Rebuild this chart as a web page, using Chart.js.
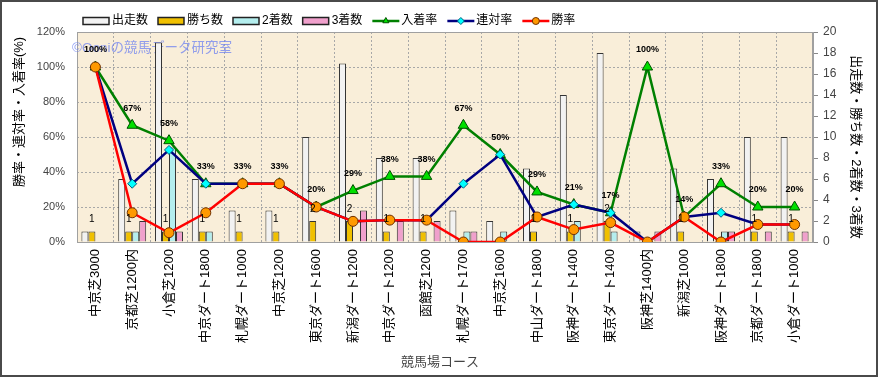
<!DOCTYPE html>
<html>
<head>
<meta charset="utf-8">
<script src="https://cdn.jsdelivr.net/npm/chart.js@4.4.1/dist/chart.umd.min.js"></script>
<style>
  body { margin: 0; background: #fff; }
  #wrap { width: 881px; height: 378px; }
</style>
</head>
<body>
<div id="wrap"><canvas id="courseChart" width="881" height="378"></canvas></div>
<script>
// コース別成績
const courses = ['中京芝3000', '京都芝1200内', '小倉芝1200', '中京ダート1800', '札幌ダート1000',
  '中京芝1200', '東京ダート1600', '新潟ダート1200', '中京ダート1200', '函館芝1200',
  '札幌ダート1700', '中京芝1600', '中山ダート1800', '阪神ダート1400', '東京ダート1400',
  '阪神芝1400内', '新潟芝1000', '阪神ダート1800', '京都ダート1800', '小倉ダート1000'];

const starts  = [1, 6, 19, 6, 3, 3, 10, 17, 8, 8, 3, 2, 7, 14, 18, 1, 7, 6, 10, 10];
const wins    = [1, 1, 1, 1, 1, 1, 2, 2, 1, 1, 0, 0, 1, 1, 2, 0, 1, 0, 1, 1];
const seconds = [0, 1, 9, 1, 0, 0, 0, 0, 0, 0, 1, 1, 0, 2, 1, 0, 0, 1, 0, 0];
const thirds  = [0, 2, 1, 0, 0, 0, 0, 3, 2, 2, 1, 0, 0, 0, 0, 1, 0, 1, 1, 1];

// 率 (%)
const placeRate  = [100, 66.7, 57.9, 33.3, 33.3, 33.3, 20, 29.4, 37.5, 37.5, 66.7, 50, 28.6, 21.4, 16.7, 100, 14.3, 33.3, 20, 20];
const rentaiRate = [100, 33.3, 52.6, 33.3, 33.3, 33.3, 20, 11.8, 12.5, 12.5, 33.3, 50, 14.3, 21.4, 16.7, 0, 14.3, 16.7, 10, 10];
const winRate    = [100, 16.7, 5.3, 16.7, 33.3, 33.3, 20, 11.8, 12.5, 12.5, 0, 0, 14.3, 7.1, 11.1, 0, 14.3, 0, 10, 10];

const rateTicks  = [0, 20, 40, 60, 80, 100, 120];
const countTicks = [0, 2, 4, 6, 8, 10, 12, 14, 16, 18, 20];

const FONT = '"Liberation Sans", "Noto Sans CJK JP", sans-serif';
Chart.defaults.font.family = FONT;

function barSet(label, data, color) {
  return {
    type: 'bar', label, data, yAxisID: 'yR', order: 10,
    backgroundColor: color, borderColor: '#333', borderWidth: 1,
    categoryPercentage: 0.76, barPercentage: 1.0
  };
}
function lineSet(label, data, color, style, fill, edge, radius, order) {
  return {
    type: 'line', label, data, yAxisID: 'yL', order,
    borderColor: color, borderWidth: 2.5, tension: 0,
    pointStyle: style, pointRadius: radius, pointBackgroundColor: fill,
    pointBorderColor: edge, pointBorderWidth: 1
  };
}

// 装飾: 背景・枠・ラベル・凡例・軸タイトル
const decor = {
  id: 'decor',
  beforeDraw(chart) {
    const { ctx, chartArea: a } = chart;
    ctx.save();
    ctx.fillStyle = '#fff';
    ctx.fillRect(0, 0, chart.width, chart.height);
    ctx.fillStyle = '#f9eed9';
    ctx.fillRect(a.left, a.top, a.right - a.left, a.bottom - a.top);
    ctx.restore();
  },
  beforeDatasetsDraw(chart) {
    const { ctx, chartArea: a } = chart;
    ctx.save();
    ctx.strokeStyle = '#a0a0a0';
    ctx.lineWidth = 1;
    ctx.strokeRect(a.left + 0.5, a.top + 0.5, a.right - a.left - 1, a.bottom - a.top);
    // 透かし
    ctx.font = '13.5px ' + FONT;
    ctx.fillStyle = 'rgba(110,130,240,0.75)';
    ctx.textBaseline = 'middle';
    ctx.fillText('©Ooniの競馬データ研究室', 72, 48);
    ctx.restore();
  },
  afterDatasetsDraw(chart) {
    const { ctx } = chart;
    ctx.save();
    ctx.fillStyle = '#000';
    ctx.textAlign = 'center';
    ctx.textBaseline = 'middle';
    // 入着率ラベル
    ctx.font = 'bold 9px ' + FONT;
    const pm = chart.getDatasetMeta(4);
    pm.data.forEach((p, i) => {
      ctx.fillText(Math.round(placeRate[i]) + '%', p.x, p.y - 17);
    });
    // 勝ち数ラベル
    ctx.font = '10px ' + FONT;
    const wm = chart.getDatasetMeta(1);
    wm.data.forEach((b, i) => {
      if (wins[i] > 0) ctx.fillText(String(wins[i]), b.x, b.y - 12);
    });
    ctx.restore();
  },
  afterDraw(chart) {
    const { ctx } = chart;
    ctx.save();
    // 凡例
    ctx.font = '12px ' + FONT;
    ctx.textBaseline = 'middle';
    let x = 83;
    const ly = 21;
    chart.data.datasets.forEach(ds => {
      if (ds.type === 'bar') {
        ctx.fillStyle = ds.backgroundColor;
        ctx.strokeStyle = '#222';
        ctx.lineWidth = 1.5;
        ctx.fillRect(x, ly - 3.5, 26, 7);
        ctx.strokeRect(x, ly - 3.5, 26, 7);
      } else {
        ctx.strokeStyle = ds.borderColor;
        ctx.lineWidth = 2.5;
        ctx.beginPath();
        ctx.moveTo(x, ly);
        ctx.lineTo(x + 27, ly);
        ctx.stroke();
        ctx.fillStyle = ds.pointBackgroundColor;
        ctx.strokeStyle = ds.pointBorderColor;
        ctx.lineWidth = 1;
        Chart.helpers.drawPoint(ctx, { pointStyle: ds.pointStyle, radius: 3.5, rotation: 0, borderWidth: 1 }, x + 13.5, ly);
      }
      x += 29;
      ctx.fillStyle = '#000';
      ctx.fillText(ds.label, x, ly);
      x += ctx.measureText(ds.label).width + 10;
    });
    // 軸タイトル
    ctx.font = '13px ' + FONT;
    ctx.fillStyle = '#000';
    ctx.textAlign = 'center';
    ctx.save();
    ctx.translate(19, 112);
    ctx.rotate(-Math.PI / 2);
    ctx.fillText('勝率・連対率・入着率(%)', 0, 0);
    ctx.restore();
    ctx.save();
    ctx.translate(856, 147);
    ctx.rotate(Math.PI / 2);
    ctx.fillText('出走数・勝ち数・2着数・3着数', 0, 0);
    ctx.restore();
    ctx.fillStyle = '#444';
    ctx.fillText('競馬場コース', 440, 362);
    // 外枠
    ctx.strokeStyle = '#4a4a4a';
    ctx.lineWidth = 2;
    ctx.strokeRect(1, 1, 876, 375);
    ctx.restore();
  }
};

const chart = new Chart(document.getElementById('courseChart'), {
  type: 'bar',
  data: {
    labels: courses,
    datasets: [
      barSet('出走数', starts, '#f2f2f2'),
      barSet('勝ち数', wins, '#f0c000'),
      barSet('2着数', seconds, '#b4eeee'),
      barSet('3着数', thirds, '#f0a0cc'),
      lineSet('入着率', placeRate, '#008000', 'triangle', '#00e000', '#005000', 6, 3),
      lineSet('連対率', rentaiRate, '#000080', 'rectRot', '#00ffff', '#006080', 4.5, 2),
      lineSet('勝率', winRate, '#ff0000', 'circle', '#ff9900', '#703000', 5, 1)
    ]
  },
  options: {
    responsive: false,
    animation: false,
    layout: { padding: { top: 32, left: 0, right: 0, bottom: 0 } },
    plugins: { legend: { display: false }, tooltip: { enabled: false } },
    scales: {
      x: {
        offset: true,
        grid: { offset: true, color: '#a8a8a8', drawTicks: false },
        border: { display: false, dash: [2, 2] },
        ticks: { autoSkip: false, minRotation: 90, maxRotation: 90, padding: 7, color: '#000', font: { size: 13 } },
        afterFit(s) { s.height = 136; }
      },
      yL: {
        position: 'left', min: 0, max: 120,
        afterBuildTicks(s) { s.ticks = rateTicks.map(v => ({ value: v })); },
        ticks: { callback: v => v + '%', padding: 12, color: '#444', font: { size: 11 } },
        grid: { color: '#a8a8a8', drawTicks: false },
        border: { display: false, dash: [2, 2] },
        afterFit(s) { s.width = 77; }
      },
      yR: {
        position: 'right', min: 0, max: 20,
        afterBuildTicks(s) { s.ticks = countTicks.map(v => ({ value: v })); },
        ticks: { padding: 5, color: '#444', font: { size: 12 } },
        grid: { drawOnChartArea: false, color: '#888', tickLength: 5 },
        border: { display: true, color: '#a0a0a0' },
        afterFit(s) { s.width = 68; }
      }
    }
  },
  plugins: [decor]
});
</script>
</body>
</html>
